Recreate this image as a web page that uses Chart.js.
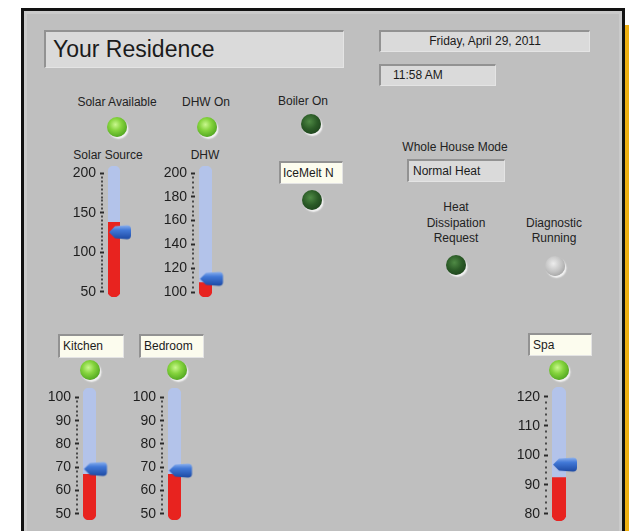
<!DOCTYPE html>
<html><head><meta charset="utf-8">
<script src="https://cdn.jsdelivr.net/npm/chart.js@4"></script>
<style>
html,body{margin:0;padding:0;background:#fff;width:629px;height:531px;overflow:hidden;font-family:"Liberation Sans",Arial,sans-serif;color:#222;}
#stage{position:relative;width:629px;height:531px;}
.panel{position:absolute;left:21px;top:8px;width:598px;height:530px;background:#bfbfbf;border:3px solid #121212;border-bottom:none;box-shadow:inset 0 0 0 3px #cacaca;}
.stripe{position:absolute;left:625px;top:25px;width:4px;height:506px;background:#efb012;}
.lbl{position:absolute;transform:translate(-50%,-50%);white-space:nowrap;font-size:12px;color:#222;line-height:14px;}
.box{position:absolute;box-sizing:border-box;border-top:2px solid #929292;border-left:2px solid #929292;border-bottom:1px solid #e4e4e4;border-right:1px solid #e4e4e4;white-space:nowrap;overflow:hidden;color:#1b1b1b;}
.grey{background:#dadada;}
.cream{background:#fcfcee;}
.led{position:absolute;width:20px;height:20px;border-radius:50%;transform:translate(-50%,-50%);box-shadow:1.5px 2px 1.5px rgba(255,255,255,0.8);}
.on{background:radial-gradient(circle at 42% 38%,#c9f78e 0%,#86d43e 35%,#52a820 75%,#3c8816 100%);}
.dark{background:radial-gradient(circle at 42% 38%,#4f8a45 0%,#2b5b27 45%,#163616 100%);}
.off{background:radial-gradient(circle at 42% 38%,#ececec 0%,#c2c2c2 50%,#8e8e8e 100%);}
canvas.g{position:absolute;}
</style></head>
<body><div id="stage">
<div class="panel"></div>
<div class="stripe"></div>

<div class="box grey" style="left:44px;top:30px;width:300px;height:38px;font-size:23px;line-height:34px;padding-left:7px;">Your Residence</div>
<div class="box grey" style="left:379px;top:30px;width:211px;height:22px;font-size:12px;line-height:19px;text-align:center;">Friday, April 29, 2011</div>
<div class="box grey" style="left:379px;top:64px;width:117px;height:22px;font-size:12px;line-height:19px;padding-left:12px;">11:58 AM</div>

<div class="lbl" style="left:117px;top:102px;">Solar Available</div>
<div class="lbl" style="left:206px;top:102px;">DHW On</div>
<div class="lbl" style="left:303px;top:101px;">Boiler On</div>
<div class="led on" style="left:117px;top:127px;"></div>
<div class="led on" style="left:207px;top:127px;"></div>
<div class="led dark" style="left:311px;top:124px;"></div>

<div class="lbl" style="left:108px;top:155px;">Solar Source</div>
<div class="lbl" style="left:205px;top:155px;">DHW</div>

<div class="box cream" style="left:279px;top:161px;width:64px;height:23px;font-size:12px;line-height:20px;padding-left:2px;">IceMelt N</div>
<div class="led dark" style="left:312px;top:200px;"></div>

<div class="lbl" style="left:455px;top:147px;">Whole House Mode</div>
<div class="box grey" style="left:407px;top:159px;width:98px;height:23px;font-size:12px;line-height:20px;padding-left:4px;">Normal Heat</div>

<div class="lbl" style="left:456px;top:207px;">Heat</div>
<div class="lbl" style="left:456px;top:223px;">Dissipation</div>
<div class="lbl" style="left:456px;top:238px;">Request</div>
<div class="led dark" style="left:456px;top:265px;"></div>
<div class="lbl" style="left:554px;top:223px;">Diagnostic</div>
<div class="lbl" style="left:554px;top:238px;">Running</div>
<div class="led off" style="left:555px;top:266px;"></div>

<div class="box cream" style="left:58px;top:334px;width:66px;height:24px;font-size:12px;line-height:21px;padding-left:3px;">Kitchen</div>
<div class="led on" style="left:90px;top:370px;"></div>
<div class="box cream" style="left:139px;top:334px;width:65px;height:24px;font-size:12px;line-height:21px;padding-left:3px;">Bedroom</div>
<div class="led on" style="left:177px;top:370px;"></div>
<div class="box cream" style="left:528px;top:333px;width:64px;height:23px;font-size:12px;line-height:20px;padding-left:3px;">Spa</div>
<div class="led on" style="left:559px;top:370px;"></div>
</div>
<script>
// ---- data ----
const gaugeNames    = ['Solar Source', 'DHW', 'Kitchen', 'Bedroom', 'Spa'];
const fillValues    = [138, 108, 67, 67, 92.4];
const pointerValues = [126, 111.5, 69.5, 68.8, 97];
const solarTicks    = [50, 100, 150, 200];
const dhwTicks      = [100, 120, 140, 160, 180, 200];
const roomTicks     = [50, 60, 70, 80, 90, 100];
const spaTicks      = [80, 90, 100, 110, 120];
const majorTicks    = [solarTicks, dhwTicks, roomTicks, roomTicks, spaTicks];
const minorSteps    = [5, 4, 2, 2, 2];
const scaleMins     = [43.3, 95.8, 47.4, 47.4, 77.6];
const scaleMaxs     = [209.3, 205.9, 104, 104, 123.3];

// ---- layout (tube rectangles on the page) ----
const tubes = [
  {x:108, y:166, w:12, h:131},
  {x:199, y:166, w:13, h:131},
  {x:83,  y:388, w:13, h:132},
  {x:168, y:388, w:13, h:132},
  {x:552, y:387, w:14, h:134}
];
const AXIS_W = 42, PAD_T = 14, PAD_B = 14, PAD_R = 18;

function makePointer(tubeW){
  const c = document.createElement('canvas');
  c.width = 44; c.height = 18;
  const g = c.getContext('2d');
  const cx = 22, L = cx - tubeW/2 + 1, R = cx + tubeW/2 + 11;
  g.beginPath();
  g.moveTo(L, 9.5);
  g.lineTo(L + 6, 3.5);
  g.lineTo(R - 4, 2.5);
  g.quadraticCurveTo(R, 2.5, R, 6.5);
  g.lineTo(R, 12.5);
  g.quadraticCurveTo(R, 16.5, R - 4, 16.5);
  g.lineTo(L + 6, 15.5);
  g.closePath();
  const gr = g.createLinearGradient(0, 2, 0, 17);
  gr.addColorStop(0, '#93b6f0');
  gr.addColorStop(0.35, '#4279d8');
  gr.addColorStop(1, '#1b47a0');
  g.fillStyle = gr;
  g.fill();
  return c;
}

const stage = document.getElementById('stage');
gaugeNames.forEach((name, i) => {
  const t = tubes[i];
  const cv = document.createElement('canvas');
  cv.className = 'g';
  const W = AXIS_W + t.w + PAD_R, H = t.h + PAD_T + PAD_B;
  cv.width = W; cv.height = H;
  cv.style.left = (t.x - AXIS_W) + 'px';
  cv.style.top = (t.y - PAD_T) + 'px';
  stage.appendChild(cv);

  const majors = majorTicks[i];
  const step = minorSteps[i];
  const isMajor = v => majors.some(m => Math.abs(m - v) < 1e-6);

  new Chart(cv, {
    data: {
      labels: [name],
      datasets: [
        { type: 'line', data: [pointerValues[i]], showLine: false,
          pointStyle: makePointer(t.w), pointRadius: 8, clip: false },
        { type: 'bar', data: [[scaleMins[i], fillValues[i]]], backgroundColor: '#e8231f',
          borderSkipped: false, grouped: false, barPercentage: 1, categoryPercentage: 1,
          borderRadius: {topLeft: 0, topRight: 0, bottomLeft: t.w/2, bottomRight: t.w/2} },
        { type: 'bar', data: [[scaleMins[i], scaleMaxs[i]]], backgroundColor: '#b3c3ea',
          borderSkipped: false, grouped: false, barPercentage: 1, categoryPercentage: 1,
          borderRadius: t.w/2 }
      ]
    },
    options: {
      responsive: false, animation: false, devicePixelRatio: 1,
      layout: { padding: {top: PAD_T, bottom: PAD_B, left: 0, right: PAD_R} },
      plugins: { legend: {display: false}, tooltip: {enabled: false} },
      scales: {
        x: { type: 'category', display: false },
        y: {
          type: 'linear', position: 'left', min: scaleMins[i], max: scaleMaxs[i],
          border: { display: false },
          grid: {
            drawOnChartArea: false, drawTicks: true, tickLength: 8,
            tickWidth: 2,
            tickColor: ctx => isMajor(ctx.tick.value) ? '#2a2a2a' : '#4a4a4a',
            tickBorderDash: ctx => isMajor(ctx.tick.value) ? [4, 20] : [2, 20],
            tickBorderDashOffset: ctx => isMajor(ctx.tick.value) ? 0 : -1
          },
          ticks: {
            autoSkip: false, padding: 4, color: '#1e1e1e',
            font: { family: '"Liberation Sans", Arial, sans-serif', size: 14 },
            callback: v => isMajor(v) ? String(v) : ''
          },
          afterBuildTicks: scale => {
            const vals = [];
            for (let v = majors[0]; v <= majors[majors.length-1] + 1e-6; v += step) vals.push({value: Math.round(v*1000)/1000});
            scale.ticks = vals;
          },
          afterFit: scale => { scale.width = AXIS_W; }
        }
      }
    }
  });
});
</script>
</body></html>
